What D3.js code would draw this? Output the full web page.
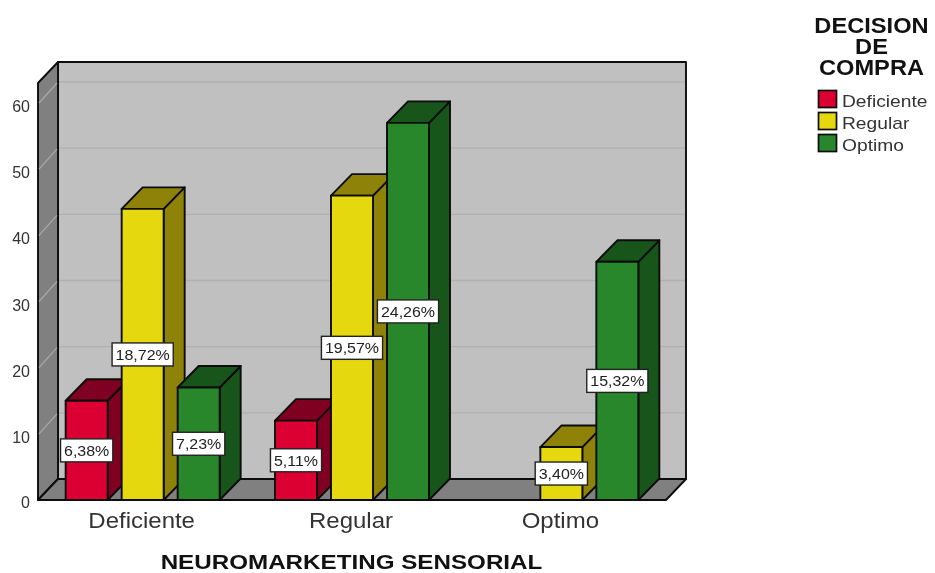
<!DOCTYPE html>
<html><head><meta charset="utf-8">
<script src="https://cdn.jsdelivr.net/npm/d3@7"></script>
<style>
html,body{margin:0;padding:0;background:#fff}
svg{display:block;filter:blur(.55px)}
text{font-family:"Liberation Sans",Arial,sans-serif}
</style></head><body>
<svg id="c" width="935" height="573"></svg>
<script>
const categories = ["Deficiente","Regular","Optimo"];
const seriesNames = ["Deficiente","Regular","Optimo"];
const deficienteValues = [15,12,null];
const regularValues = [44,46,8];
const optimoValues = [17,57,36];
const deficienteLabels = ["6,38%","5,11%",null];
const regularLabels = ["18,72%","19,57%","3,40%"];
const optimoLabels = ["7,23%","24,26%","15,32%"];
const yTicks = [0,10,20,30,40,50,60];
const xTitle = "NEUROMARKETING SENSORIAL";
const legendTitle = ["DECISION","DE","COMPRA"];
const frontColors = ["#dc0032","#e6d80f","#28862b"];
const topColors = ["#7f0020","#8f8208","#17551a"];
const sideColors = ["#7f0020","#8f8208","#17551a"];

const values=[deficienteValues,regularValues,optimoValues];
const labels=[deficienteLabels,regularLabels,optimoLabels];
const svg=d3.select("#c");
const X0=38,X1=666,Y0=500,YTOP=83,DX=20,DY=21,BDX=21,BDY=21.5,BAR=42;
const y=d3.scaleLinear().domain([0,60]).range([Y0,103]);
const x=d3.scaleBand().domain(categories).range([X0,X1]);
const inner=d3.scaleBand().domain(d3.range(3)).range([-84,84]);
const ink="#0c0c0c";
const poly=(pts,fill,g=svg)=>g.append("polygon").attr("points",pts.map(p=>p.join(",")).join(" "))
  .attr("fill",fill).attr("stroke",ink).attr("stroke-width",1.9).attr("stroke-linejoin","round");

poly([[X0+DX,YTOP-DY],[X1+DX,YTOP-DY],[X1+DX,Y0-DY],[X0+DX,Y0-DY]],"#c0c0c0");
poly([[X0,YTOP],[X0+DX,YTOP-DY],[X0+DX,Y0-DY],[X0,Y0]],"#808080");
poly([[X0,Y0],[X0+DX,Y0-DY],[X1+DX,Y0-DY],[X1,Y0]],"#808080");
const grid=svg.append("g").attr("fill","none").attr("stroke-width",1.3);
yTicks.filter(t=>t>0).forEach(t=>{
  grid.append("line").attr("x1",X0+DX+1).attr("x2",X1+DX-1).attr("y1",y(t)-DY).attr("y2",y(t)-DY).attr("stroke","#b0b0b0");
  grid.append("line").attr("x1",X0+1).attr("x2",X0+DX-1).attr("y1",y(t)).attr("y2",y(t)-DY+1).attr("stroke","#a8a8a8");
});
svg.append("line").attr("x1",X0).attr("x2",X1).attr("y1",Y0).attr("y2",Y0).attr("stroke",ink).attr("stroke-width",2.2);

const bars=svg.append("g");
categories.forEach((c,ci)=>{
  const cx=x(c)+x.bandwidth()/2;
  seriesNames.forEach((s,si)=>{
    const v=values[si][ci]; if(v==null) return;
    const l=cx+inner(si)+inner.bandwidth()/2-BAR/2, r=l+BAR, t=y(v), b=y(0);
    poly([[r,t],[r+BDX,t-BDY],[r+BDX,b-BDY],[r,b]],sideColors[si],bars);
    poly([[l,t],[l+BDX,t-BDY],[r+BDX,t-BDY],[r,t]],topColors[si],bars);
    poly([[l,t],[r,t],[r,b],[l,b]],frontColors[si],bars);
  });
});

function stretch(sel,k){
  sel.each(function(){const w=this.getComputedTextLength();
    d3.select(this).attr("textLength",w*k).attr("lengthAdjust","spacingAndGlyphs");});
  return sel;
}
const lab=svg.append("g");
categories.forEach((c,ci)=>{
  const cx=x(c)+x.bandwidth()/2;
  seriesNames.forEach((s,si)=>{
    const v=values[si][ci]; if(v==null) return;
    const mx=cx+inner(si)+inner.bandwidth()/2, my=(y(v)+y(0))/2;
    const g=lab.append("g");
    const rect=g.append("rect").attr("fill","#fff").attr("stroke","#222").attr("stroke-width",1.4);
    const t=g.append("text").attr("x",mx).attr("y",my+5.5).attr("text-anchor","middle")
      .attr("font-size",15.5).attr("fill","#222").text(labels[si][ci]);
    stretch(t,1.03);
    const ww=+t.attr("textLength")+7;
    rect.attr("x",mx-ww/2).attr("y",my-11.5).attr("width",ww).attr("height",23);
  });
});
svg.append("g").selectAll("text").data(yTicks).join("text")
  .attr("x",30).attr("y",d=>y(d)+(d===0?7.5:9)).attr("text-anchor","end")
  .attr("font-size",16).attr("fill","#333").text(d=>d);
const ct=svg.append("g").selectAll("text").data(categories).join("text")
  .attr("x",d=>x(d)+x.bandwidth()/2-1).attr("y",528).attr("text-anchor","middle")
  .attr("font-size",22).attr("fill","#333").text(d=>d);
stretch(ct,1.09);
stretch(svg.append("text").attr("x",351.5).attr("y",568.5).attr("text-anchor","middle")
  .attr("font-size",20.5).attr("font-weight","bold").attr("fill","#111").text(xTitle),1.18);
const lg=svg.append("g");
const lt=lg.append("text").attr("text-anchor","middle")
  .attr("font-size",21.5).attr("font-weight","bold").attr("fill","#111");
stretch(lt.selectAll("tspan").data(legendTitle).join("tspan")
  .attr("x",871.5).attr("y",(d,i)=>33+i*21).text(d=>d),1.1);
const legendY=d3.scalePoint().domain(seriesNames).range([99,143]);
seriesNames.forEach((s,i)=>{
  lg.append("rect").attr("x",818.5).attr("y",legendY(s)-8.5).attr("width",18).attr("height",17)
    .attr("fill",frontColors[i]).attr("stroke",ink).attr("stroke-width",1.7);
  stretch(lg.append("text").attr("x",842).attr("y",legendY(s)+8).attr("font-size",17).attr("fill","#333").text(s),1.13);
});
</script></body></html>
